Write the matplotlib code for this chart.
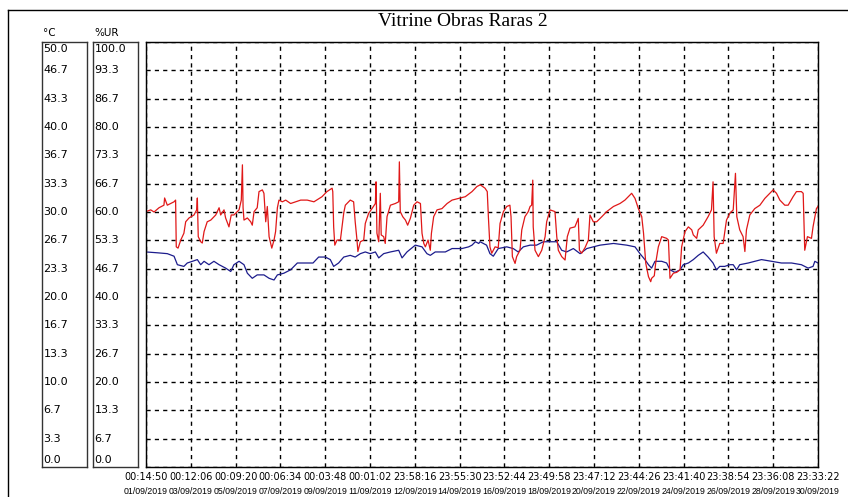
import matplotlib
matplotlib.use("Agg")
import matplotlib.pyplot as plt
import numpy as np
from matplotlib.lines import Line2D

# time axis: days since 01/09/2019 00:14:50, ends 30/09/2019 23:33:22
span_days = 29 + 83912 / 86400

time_labels = ["00:14:50", "00:12:06", "00:09:20", "00:06:34", "00:03:48", "00:01:02",
               "23:58:16", "23:55:30", "23:52:44", "23:49:58", "23:47:12", "23:44:26",
               "23:41:40", "23:38:54", "23:36:08", "23:33:22"]
date_labels = ["01/09/2019", "03/09/2019", "05/09/2019", "07/09/2019", "09/09/2019",
               "11/09/2019", "12/09/2019", "14/09/2019", "16/09/2019", "18/09/2019",
               "20/09/2019", "22/09/2019", "24/09/2019", "26/09/2019", "28/09/2019",
               "30/09/2019"]
temp_ticks = ["50.0", "46.7", "43.3", "40.0", "36.7", "33.3", "30.0", "26.7", "23.3",
              "20.0", "16.7", "13.3", "10.0", "6.7", "3.3", "0.0"]
rh_ticks = ["100.0", "93.3", "86.7", "80.0", "73.3", "66.7", "60.0", "53.3", "46.7",
            "40.0", "33.3", "26.7", "20.0", "13.3", "6.7", "0.0"]

# relative humidity (%UR)
rh_days = [0.00, 0.21, 0.36, 0.58, 0.80, 0.83, 0.95, 1.25, 1.32, 1.35, 1.43, 1.55, 1.69,
           1.77, 1.92, 2.14, 2.26, 2.29, 2.33, 2.44, 2.51, 2.59, 2.73, 2.89, 3.11, 3.26,
           3.33, 3.48, 3.55, 3.70, 3.80, 3.92, 4.15, 4.25, 4.30, 4.33, 4.37, 4.52, 4.67,
           4.74, 4.82, 4.96, 5.04, 5.19, 5.26, 5.34, 5.41, 5.49, 5.61, 5.71, 5.78, 5.86,
           5.93, 6.08, 6.23, 6.45, 6.68, 6.90, 7.19, 7.49, 7.85, 8.07, 8.30, 8.33, 8.37,
           8.42, 8.52, 8.67, 8.82, 8.89, 9.11, 9.26, 9.33, 9.41, 9.45, 9.56, 9.71, 9.78,
           9.93, 10.08, 10.23, 10.26, 10.30, 10.38, 10.45, 10.49, 10.60, 10.67, 10.75,
           10.90, 11.12, 11.27, 11.30, 11.34, 11.45, 11.57, 11.67, 11.79, 11.94, 12.09,
           12.24, 12.31, 12.39, 12.46, 12.58, 12.68, 12.73, 12.83, 12.98, 13.20, 13.43,
           13.65, 13.95, 14.24, 14.54, 14.76, 14.91, 15.12, 15.22, 15.27, 15.34, 15.42,
           15.57, 15.71, 15.79, 15.94, 16.09, 16.23, 16.28, 16.34, 16.46, 16.53, 16.68,
           16.76, 16.90, 17.05, 17.13, 17.20, 17.25, 17.27, 17.35, 17.50, 17.65, 17.80,
           17.87, 18.02, 18.24, 18.32, 18.39, 18.54, 18.69, 18.79, 18.91, 19.13, 19.28,
           19.33, 19.43, 19.58, 19.73, 19.80, 19.95, 20.10, 20.33, 20.55, 20.85, 21.14,
           21.36, 21.66, 21.81, 21.96, 22.11, 22.19, 22.29, 22.41, 22.51, 22.55, 22.67,
           22.73, 22.85, 23.00, 23.22, 23.30, 23.37, 23.52, 23.67, 23.82, 23.89, 24.04,
           24.19, 24.34, 24.41, 24.56, 24.63, 24.85, 25.07, 25.22, 25.29, 25.34, 25.44,
           25.59, 25.74, 25.89, 26.04, 26.19, 26.29, 26.35, 26.48, 26.63, 26.71, 26.78,
           26.93, 27.15, 27.38, 27.60, 27.82, 27.97, 28.12, 28.27, 28.49, 28.64, 28.86,
           29.01, 29.23, 29.31, 29.34, 29.38, 29.50, 29.68, 29.75, 29.90, 29.97]
rh_values = [60.1, 60.5, 60.0, 61.0, 61.6, 63.3, 61.6, 62.4, 62.8, 51.8, 51.5, 53.4, 55.0,
             57.7, 58.6, 59.3, 60.5, 63.3, 54.2, 53.0, 52.7, 55.4, 57.7, 58.1, 59.3, 61.0,
             59.3, 60.5, 58.6, 56.5, 59.3, 59.3, 60.5, 62.8, 71.1, 61.0, 58.1, 58.6, 57.7,
             56.9, 60.1, 61.0, 64.8, 65.2, 64.4, 57.7, 61.3, 54.2, 51.5, 53.4, 55.4, 61.0,
             62.8, 62.4, 62.8, 62.0, 62.4, 62.8, 62.8, 62.4, 63.6, 64.8, 65.6, 64.8, 56.5,
             52.2, 53.4, 53.4, 59.8, 61.6, 62.8, 62.4, 57.7, 53.4, 50.7, 53.0, 53.4, 57.3,
             59.7, 60.8, 62.0, 67.1, 55.0, 53.0, 64.4, 54.6, 54.2, 52.6, 58.9,
             61.6, 62.0, 62.4, 71.8, 60.1, 58.9, 58.1, 56.9, 58.5, 61.6, 62.4,
             62.0, 55.0, 52.6, 51.8, 53.4, 51.0, 55.0, 58.9, 60.5, 60.8, 62.0,
             62.8, 63.2, 63.6, 64.8, 66.0, 66.4, 65.6, 64.8, 58.9, 51.8, 50.3,
             51.8, 51.6, 57.3, 60.1, 61.3, 61.6, 58.9, 49.5, 47.9, 49.5, 51.0,
             55.8, 58.9, 60.1, 61.3, 61.6, 67.5, 56.5, 51.0, 49.5, 51.0, 54.2,
             57.7, 60.5, 60.1, 54.2, 51.0, 49.5, 48.7, 54.2, 56.2, 56.5, 58.5,
             51.0, 50.3, 51.6, 53.4, 59.3, 57.7, 57.7, 58.9, 60.1, 61.3, 62.0,
             62.8, 64.4, 63.2, 60.8, 58.9, 55.0, 47.9, 44.8, 43.6, 44.4, 45.0,
             47.9, 51.8, 54.2, 53.8, 53.4, 44.4, 45.6, 45.8, 46.4, 51.8, 55.4,
             56.5, 55.8, 54.6, 53.8, 55.8, 56.9, 58.9, 60.5, 67.1, 54.2, 50.3,
             52.6, 52.6, 58.1, 59.7, 60.5, 69.1, 58.9, 55.8, 54.2, 50.7, 55.8,
             59.3, 60.8, 61.6, 63.2, 64.4, 65.2, 64.4, 62.8, 61.6, 61.6, 63.6,
             64.8, 64.8, 64.4, 58.9, 51.0, 54.2, 53.8, 56.5, 60.8, 61.3]

# temperature (°C)
t_days = [0.00, 0.51, 0.95, 1.25, 1.40, 1.69, 1.84, 2.07, 2.29, 2.44, 2.59, 2.81, 3.03,
          3.26, 3.55, 3.78, 3.92, 4.15, 4.37, 4.52, 4.74, 4.96, 5.26, 5.49, 5.71, 5.86,
          6.15, 6.45, 6.75, 7.05, 7.45, 7.70, 8.00, 8.22, 8.37, 8.59, 8.82, 9.11, 9.33,
          9.56, 9.78, 10.00, 10.23, 10.38, 10.60, 10.90, 11.27, 11.42, 11.64, 12.01,
          12.31, 12.53, 12.68, 12.90, 13.35, 13.65, 14.09, 14.39, 14.54, 14.69, 14.84,
          14.90, 15.19, 15.34, 15.49, 15.71, 16.09, 16.38, 16.60, 16.83, 17.13, 17.42,
          17.72, 18.02, 18.32, 18.54, 18.76, 19.06, 19.36, 19.66, 19.95, 20.25, 20.85,
          21.44, 21.81, 22.03, 22.25, 22.41, 22.55, 22.70, 23.00, 23.22, 23.37, 23.59,
          23.82, 23.96, 24.19, 24.41, 24.63, 24.85, 25.07, 25.29, 25.44, 25.59, 25.81,
          26.04, 26.19, 26.34, 26.48, 26.86, 27.45, 27.90, 28.34, 28.79, 29.23, 29.53,
          29.75, 29.83, 29.97]
t_values = [25.3, 25.2, 25.1, 24.8, 23.8, 23.6, 24.0, 24.2, 24.4, 23.8, 24.2, 23.8, 24.2,
            23.8, 23.4, 23.0, 23.8, 24.2, 23.8, 22.8, 22.2, 22.6, 22.6, 22.2, 22.0, 22.6,
            22.8, 23.2, 24.0, 24.0, 24.0, 24.7, 24.7, 24.4, 23.6, 24.0, 24.7, 24.9, 24.7,
            25.1, 25.3, 25.1, 25.3, 24.6, 25.1, 25.3, 25.5, 24.6, 25.3, 26.1,
            25.9, 25.1, 24.9, 25.3, 25.3, 25.7, 25.7, 25.9, 26.1, 26.5, 26.3,
            26.5, 26.1, 25.1, 24.8, 25.7, 25.9, 25.7, 25.3, 25.9, 26.1, 26.1,
            26.5, 26.5, 26.5, 25.5, 25.3, 25.7, 25.1, 25.7, 25.9, 26.1, 26.3,
            26.1, 25.9, 25.1, 24.4, 23.8, 23.4, 24.2, 24.2, 24.0, 23.2, 22.9,
            23.2, 23.8, 24.0, 24.4, 24.9, 25.3, 24.7, 24.0, 23.2, 23.6, 23.6,
            23.8, 23.8, 23.2, 23.8, 24.0, 24.4, 24.2, 24.0, 24.0, 23.8, 23.4,
            23.6, 24.2, 24.0]

W, H = 848, 497


def fx(px):
    return px / W


def fy(py):
    return 1 - py / H


fig = plt.figure(figsize=(W / 100, H / 100), dpi=100)
fig.patch.set_facecolor("white")

plot_left, plot_right, plot_top, plot_bottom = 146, 818, 42, 467
plot_h = plot_bottom - plot_top
ax = fig.add_axes([fx(plot_left), fy(plot_bottom), fx(plot_right - plot_left), plot_h / H])
ax.set_xlim(0, span_days)
ax.set_ylim(0, 50)
ax.set_yticks(np.linspace(0, 50, 16))
ax.set_yticklabels([])
xticks = np.linspace(0, span_days, 16)
ax.set_xticks(xticks)
ax.set_xticklabels(time_labels, fontsize=7, family="DejaVu Sans")
ax.tick_params(length=0, pad=3.5)
# date row under the times
for xt, d in zip(xticks, date_labels):
    ax.text(xt, -(491 - plot_bottom) / plot_h, d, transform=ax.get_xaxis_transform(),
            fontsize=6.3, family="Liberation Sans", ha="center", va="center")
ax.grid(True, color="black", linestyle=(0, (3, 3)), linewidth=1)
for s in ax.spines.values():
    s.set_linewidth(1)
    s.set_color("#222222")
ax.plot(t_days, t_values, color="#1c1c8c", linewidth=0.9)

ax2 = ax.twinx()
ax2.set_ylim(0, 100)
ax2.set_yticks([])
ax2.plot(rh_days, rh_values, color="#e01818", linewidth=0.9)

# left scale boxes
for left, ticks, vmax, head in [(42, temp_ticks, 50, "°C"), (93, rh_ticks, 100, "%UR")]:
    bx = fig.add_axes([fx(left), fy(plot_bottom), 45 / W, plot_h / H])
    bx.set_xlim(0, 1)
    bx.set_ylim(0, vmax)
    bx.set_xticks([])
    bx.set_yticks([])
    for s in bx.spines.values():
        s.set_linewidth(1)
        s.set_color("#333333")
    n = len(ticks)
    for i, lab in enumerate(ticks):
        v = vmax * (n - 1 - i) / (n - 1)
        va = "center"
        if i == 0:
            va = "top"
            v = vmax * 0.995
        elif i == n - 1:
            va = "bottom"
            v = vmax * 0.005
        bx.text(0.03, v, lab, fontsize=8, family="DejaVu Sans", ha="left", va=va)
    fig.text(fx(left + 1), fy(33), head, fontsize=7.5, family="DejaVu Sans",
             ha="left", va="center")

fig.text(fx(463), fy(22), "Vitrine Obras Raras 2", fontsize=14,
         family="Liberation Serif", ha="center", va="center")

# outer frame (top and left edges)
fig.add_artist(Line2D([fx(8), 1], [fy(10), fy(10)], transform=fig.transFigure,
                      color="black", linewidth=1))
fig.add_artist(Line2D([fx(8), fx(8)], [fy(10), 0], transform=fig.transFigure,
                      color="black", linewidth=1))

fig.savefig("out.png", dpi=100)
